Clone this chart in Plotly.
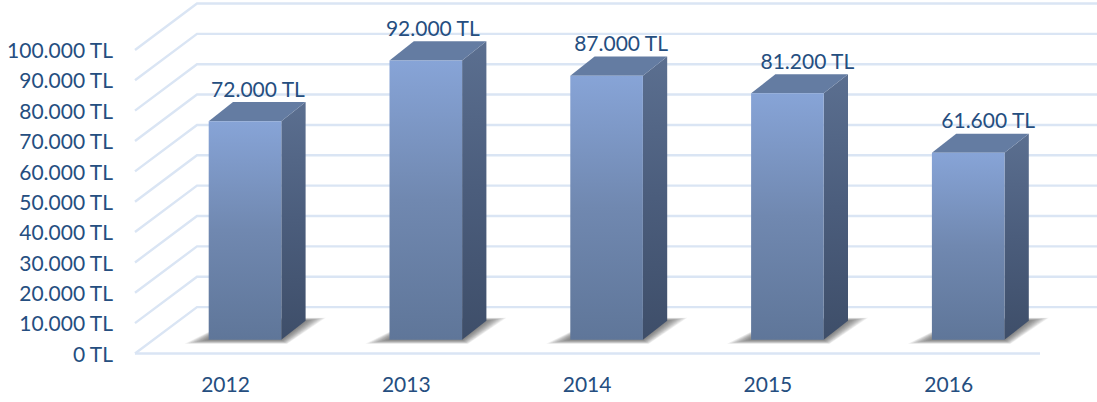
import plotly.graph_objects as go

years = ["2012", "2013", "2014", "2015", "2016"]
values = [72000, 92000, 87000, 81200, 61600]
value_labels = ["72.000 TL", "92.000 TL", "87.000 TL", "81.200 TL", "61.600 TL"]
axis_ticks = [0, 10000, 20000, 30000, 40000, 50000, 60000, 70000, 80000, 90000, 100000]
axis_tick_labels = ["0 TL", "10.000 TL", "20.000 TL", "30.000 TL", "40.000 TL", "50.000 TL",
                    "60.000 TL", "70.000 TL", "80.000 TL", "90.000 TL", "100.000 TL"]
label_nudge_px = [13, 7, 14.5, 20, 20]

# ---- layout geometry (pixels of the page) ----
W, H = 1097, 402
PLOT_L, PLOT_B = 114, 363.5
X0_PX, CAT_PX = 245, 180.8
Y0_PX, PX_PER_UNIT = 340.3, 30.4 / 10000
BAR_W = 72.6
BAR_DX, BAR_DY = 24.3, 19.2
FLOOR_FRONT_PX, FLOOR_LEFT_PX, FLOOR_RIGHT_PX = 354, 135, 1040
WALL_DX, WALL_DY = 62, 46.5
LABEL_SHIFT_PX = 0.8
TEXT = "#254e80"
GRID = "#dae5f4"
FONT = "Lato"
FS = 21


def dx(px):
    return px / CAT_PX


def dv(px):
    return px / PX_PER_UNIT


def xp(px):
    return (px - X0_PX) / CAT_PX


def vp(py):
    return (Y0_PX - py) / PX_PER_UNIT


fig = go.Figure()
floor_v = vp(FLOOR_FRONT_PX)


def poly(xs, ys, color=None, grad=None):
    kw = dict(fillcolor=color) if color else dict(
        fillgradient=dict(type="vertical", colorscale=grad))
    fig.add_trace(go.Scatter(x=xs + xs[:1], y=ys + ys[:1], mode="lines", fill="toself",
                             line=dict(width=0), hoverinfo="skip", showlegend=False, **kw))


# gridlines: front edge, wall edge, along back wall
for t in axis_ticks:
    base = t + floor_v
    fig.add_trace(go.Scatter(
        x=[xp(FLOOR_LEFT_PX), xp(FLOOR_LEFT_PX + WALL_DX), xp(W + 10)],
        y=[base, base + dv(WALL_DY), base + dv(WALL_DY)],
        mode="lines", line=dict(color=GRID, width=2.4), hoverinfo="skip", showlegend=False))
fig.add_trace(go.Scatter(
    x=[xp(FLOOR_LEFT_PX), xp(FLOOR_RIGHT_PX)], y=[floor_v, floor_v],
    mode="lines", line=dict(color=GRID, width=2.4), hoverinfo="skip", showlegend=False))

# soft shadows
LAYERS = 12
for i in range(len(years)):
    xl, xr = i - dx(BAR_W / 2), i + dx(BAR_W / 2)
    for k in range(LAYERS, 0, -1):
        f = k / LAYERS
        g_l, g_r, g_b, g_t = 24 * f, 20 * f, 4 * f, 3 * f
        poly([xl - dx(g_l), xr + dx(g_l * 0.25), xr + dx(BAR_DX + g_r), xl + dx(BAR_DX + g_r * 0.2)],
             [-dv(g_b), -dv(g_b), dv(BAR_DY + g_t), dv(BAR_DY + g_t)],
             color="rgba(50,50,50,0.07)")

# bars: front, side, top faces
FRONT = [[0, "#5f7699"], [0.5, "#7088b0"], [1, "#87a4d7"]]
SIDE = [[0, "#3e4e69"], [0.5, "#4b5d7c"], [1, "#5b6f90"]]
for i, v in enumerate(values):
    xl, xr = i - dx(BAR_W / 2), i + dx(BAR_W / 2)
    ox, oy = dx(BAR_DX), dv(BAR_DY)
    poly([xr, xr + ox, xr + ox, xr], [0, oy, v + oy, v], grad=SIDE)
    poly([xl, xr, xr + ox, xl + ox], [v, v, v + oy, v + oy], color="#647ca2")
    poly([xl, xr, xr, xl], [0, 0, v, v], grad=FRONT)

# value labels
fig.add_trace(go.Scatter(
    x=[i + dx(n) for i, n in enumerate(label_nudge_px)],
    y=[v + dv(30) for v in values],
    text=value_labels, mode="text", textposition="middle center",
    textfont=dict(family=FONT, size=FS, color=TEXT),
    hoverinfo="skip", showlegend=False))

fig.update_layout(
    width=W, height=H, margin=dict(l=PLOT_L, r=0, t=0, b=H - PLOT_B, pad=0),
    paper_bgcolor="white", plot_bgcolor="white", showlegend=False,
    font=dict(family=FONT, size=FS, color=TEXT),
    xaxis=dict(range=[xp(PLOT_L), xp(W)], showgrid=False, zeroline=False, showline=False,
               tickmode="array", tickvals=[i - dx(19.5) for i in range(len(years))],
               ticktext=years, ticks="outside", ticklen=3, tickcolor="rgba(0,0,0,0)",
               tickfont=dict(family=FONT, size=FS, color=TEXT)),
    yaxis=dict(range=[vp(PLOT_B), vp(0)], showgrid=False, zeroline=False, showline=False,
               tickmode="array", tickvals=[t + floor_v - dv(LABEL_SHIFT_PX) for t in axis_ticks],
               ticktext=axis_tick_labels, ticks="", ticklen=0,
               tickfont=dict(family=FONT, size=FS, color=TEXT)),
)
fig.write_html("out.html", config=dict(displayModeBar=False),
               post_script="document.body.style.margin='0';document.body.style.overflow='hidden';")
